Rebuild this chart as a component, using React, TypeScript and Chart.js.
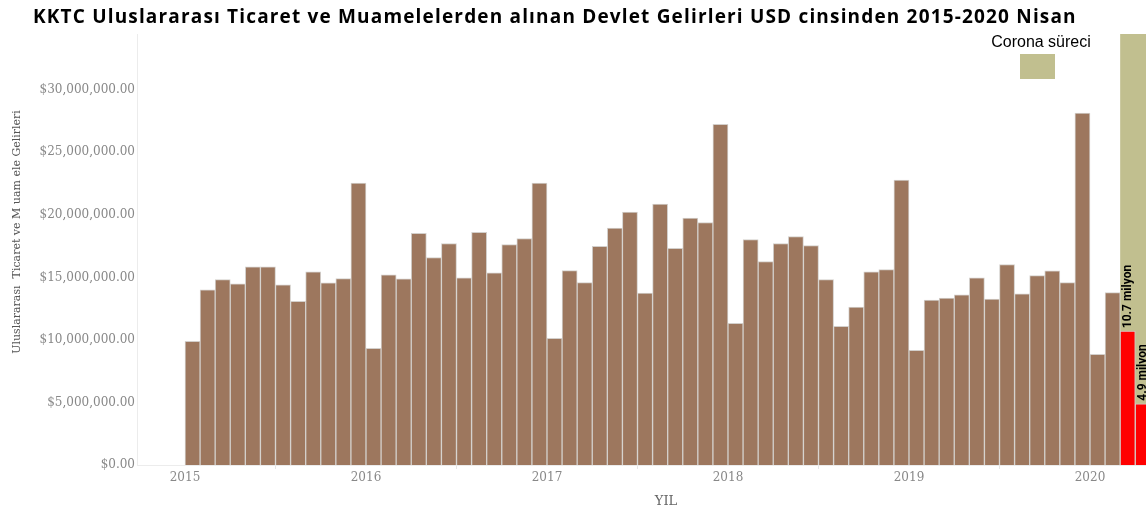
import React, { useEffect, useRef } from 'react';
import { Chart, registerables } from 'chart.js';

Chart.register(...registerables);

const TITLE =
  'KKTC Uluslararası Ticaret ve Muamelelerden alınan Devlet Gelirleri USD cinsinden 2015-2020 Nisan';
const Y_TITLE = 'Uluslararası  Ticaret ve M uam ele Gelirleri';
const X_TITLE = 'YIL';

const MONTHS = [
  '2015-01', '2015-02', '2015-03', '2015-04', '2015-05', '2015-06', '2015-07', '2015-08', '2015-09', '2015-10', '2015-11', '2015-12',
  '2016-01', '2016-02', '2016-03', '2016-04', '2016-05', '2016-06', '2016-07', '2016-08', '2016-09', '2016-10', '2016-11', '2016-12',
  '2017-01', '2017-02', '2017-03', '2017-04', '2017-05', '2017-06', '2017-07', '2017-08', '2017-09', '2017-10', '2017-11', '2017-12',
  '2018-01', '2018-02', '2018-03', '2018-04', '2018-05', '2018-06', '2018-07', '2018-08', '2018-09', '2018-10', '2018-11', '2018-12',
  '2019-01', '2019-02', '2019-03', '2019-04', '2019-05', '2019-06', '2019-07', '2019-08', '2019-09', '2019-10', '2019-11', '2019-12',
  '2020-01', '2020-02', '2020-03', '2020-04',
];

const REVENUE_USD = [
  9880000, 14000000, 14820000, 14480000, 15840000, 15840000, 14400000, 13090000, 15440000, 14560000, 14900000, 22540000,
  9320000, 15200000, 14880000, 18530000, 16590000, 17710000, 14960000, 18610000, 15360000, 17630000, 18110000, 22540000,
  10120000, 15540000, 14580000, 17490000, 18940000, 20220000, 13750000, 20860000, 17330000, 19740000, 19390000, 27240000,
  11320000, 18030000, 16270000, 17710000, 18270000, 17550000, 14820000, 11080000, 12630000, 15440000, 15620000, 22780000,
  9160000, 13190000, 13350000, 13600000, 14960000, 13270000, 16030000, 13680000, 15140000, 15520000, 14580000, 28130000,
  8840000, 13780000, 10700000, 4900000,
];

const YEAR_TICKS = [2015, 2016, 2017, 2018, 2019, 2020];
const Y_TICKS = [0, 5000000, 10000000, 15000000, 20000000, 25000000, 30000000];

const CORONA_START = '2020-03';
const CORONA_LABEL = 'Corona süreci';
const BAR_NOTES = [
  { month: '2020-03', text: '10.7 milyon' },
  { month: '2020-04', text: '4.9 milyon' },
];

const BROWN = '#9d775e';
const RED = '#ff0000';
const OLIVE = '#c1bf8f';

const X_MIN = 2014.7348;
const X_MAX = 2020.3094;
const Y_MAX = 34460000;

const monthStart = (m: string) => {
  const [y, mo] = m.split('-').map(Number);
  return y + (mo - 1) / 12;
};
const monthCenter = (m: string) => monthStart(m) + 1 / 24;

const overlayPlugin = {
  id: 'overlay',
  beforeDatasetsDraw(chart: any) {
    const { ctx, chartArea, scales } = chart;
    const x0 = scales.x.getPixelForValue(monthStart(CORONA_START));
    ctx.save();
    ctx.fillStyle = OLIVE;
    ctx.fillRect(x0, chartArea.top, chartArea.right - x0, chartArea.bottom - chartArea.top);
    ctx.restore();
  },
  afterDraw(chart: any) {
    const { ctx, scales } = chart;
    ctx.save();
    // title, spread to the reference width
    ctx.fillStyle = '#000';
    ctx.font = 'bold 19px "Open Sans", Roboto, sans-serif';
    ctx.textAlign = 'left';
    ctx.textBaseline = 'middle';
    const target = 1044;
    const w = ctx.measureText(TITLE).width;
    const ls = Math.max(0, (target - w) / TITLE.length);
    (ctx as any).letterSpacing = ls.toFixed(2) + 'px';
    ctx.fillText(TITLE, 33, 18);
    (ctx as any).letterSpacing = '0px';

    // legend
    ctx.textAlign = 'center';
    ctx.font = '16px "Liberation Sans", Arial, sans-serif';
    ctx.fillStyle = '#000';
    ctx.fillText(CORONA_LABEL, 1041, 43);
    ctx.fillStyle = OLIVE;
    ctx.fillRect(1020, 54, 35, 25);

    // y title
    ctx.save();
    ctx.translate(17, 232);
    ctx.rotate(-Math.PI / 2);
    ctx.fillStyle = '#555';
    ctx.font = '11px "DejaVu Serif", serif';
    ctx.textAlign = 'center';
    ctx.textBaseline = 'middle';
    ctx.fillText(Y_TITLE, 0, 0);
    ctx.restore();

    // x title
    ctx.fillStyle = '#666';
    ctx.font = '13px "DejaVu Serif", serif';
    ctx.textAlign = 'center';
    ctx.textBaseline = 'middle';
    ctx.fillText(X_TITLE, 666, 502);

    // bar notes
    BAR_NOTES.forEach((n) => {
      const idx = MONTHS.indexOf(n.month);
      const px = scales.x.getPixelForValue(monthCenter(n.month));
      const py = scales.y.getPixelForValue(REVENUE_USD[idx]);
      ctx.save();
      ctx.translate(px, py - 3);
      ctx.rotate(-Math.PI / 2);
      ctx.fillStyle = '#000';
      ctx.font = 'bold 12px Roboto, sans-serif';
      ctx.textAlign = 'left';
      ctx.textBaseline = 'middle';
      ctx.fillText(n.text, 0, 0);
      ctx.restore();
    });
    ctx.restore();
  },
};

export default function App() {
  const canvasRef = useRef<HTMLCanvasElement | null>(null);

  useEffect(() => {
    if (!canvasRef.current) return;
    const coronaX = monthStart(CORONA_START);
    const chart = new Chart(canvasRef.current, {
      type: 'bar',
      data: {
        datasets: [
          {
            data: MONTHS.map((m, i) => ({ x: monthCenter(m), y: REVENUE_USD[i] })),
            backgroundColor: MONTHS.map((m) => (monthStart(m) >= coronaX ? RED : BROWN)),
            borderColor: '#d3cfcb',
            borderWidth: 1,
            barPercentage: 1,
            categoryPercentage: 1,
          },
        ],
      },
      options: {
        animation: false,
        responsive: true,
        maintainAspectRatio: false,
        layout: { padding: { top: 34, left: 40, right: 0, bottom: 29 } },
        plugins: {
          legend: { display: false },
          tooltip: { enabled: false },
          title: { display: false },
        },
        scales: {
          x: {
            type: 'linear',
            min: X_MIN,
            max: X_MAX,
            offset: false,
            afterBuildTicks: (axis: any) => {
              axis.ticks = YEAR_TICKS.map((v) => ({ value: v }));
            },
            afterFit: (axis: any) => {
              axis.height = 20;
            },
            grid: {
              display: true,
              drawOnChartArea: false,
              drawTicks: true,
              tickLength: 4,
              color: '#e6e6e6',
            },
            border: { display: true, color: '#ececec' },
            ticks: {
              padding: 2,
              color: '#888',
              font: { family: '"DejaVu Serif", serif', size: 12 },
              callback: (v: any) => String(v),
              maxRotation: 0,
            },
          },
          y: {
            min: 0,
            max: Y_MAX,
            afterBuildTicks: (axis: any) => {
              axis.ticks = Y_TICKS.map((v) => ({ value: v }));
            },
            afterFit: (axis: any) => {
              axis.width = 97;
            },
            grid: { display: false, drawTicks: false },
            border: { display: true, color: '#ececec' },
            ticks: {
              padding: 2,
              color: '#888',
              font: { family: '"DejaVu Serif", serif', size: 12 },
              callback: (v: any) =>
                '$' + Number(v).toLocaleString('en-US', { minimumFractionDigits: 2, maximumFractionDigits: 2 }),
            },
          },
        },
      },
      plugins: [overlayPlugin],
    });
    return () => chart.destroy();
  }, []);

  return (
    <div style={{ position: 'fixed', left: 0, top: 0, width: 1146, height: 514, background: '#fff' }}>
      <canvas ref={canvasRef} />
    </div>
  );
}
